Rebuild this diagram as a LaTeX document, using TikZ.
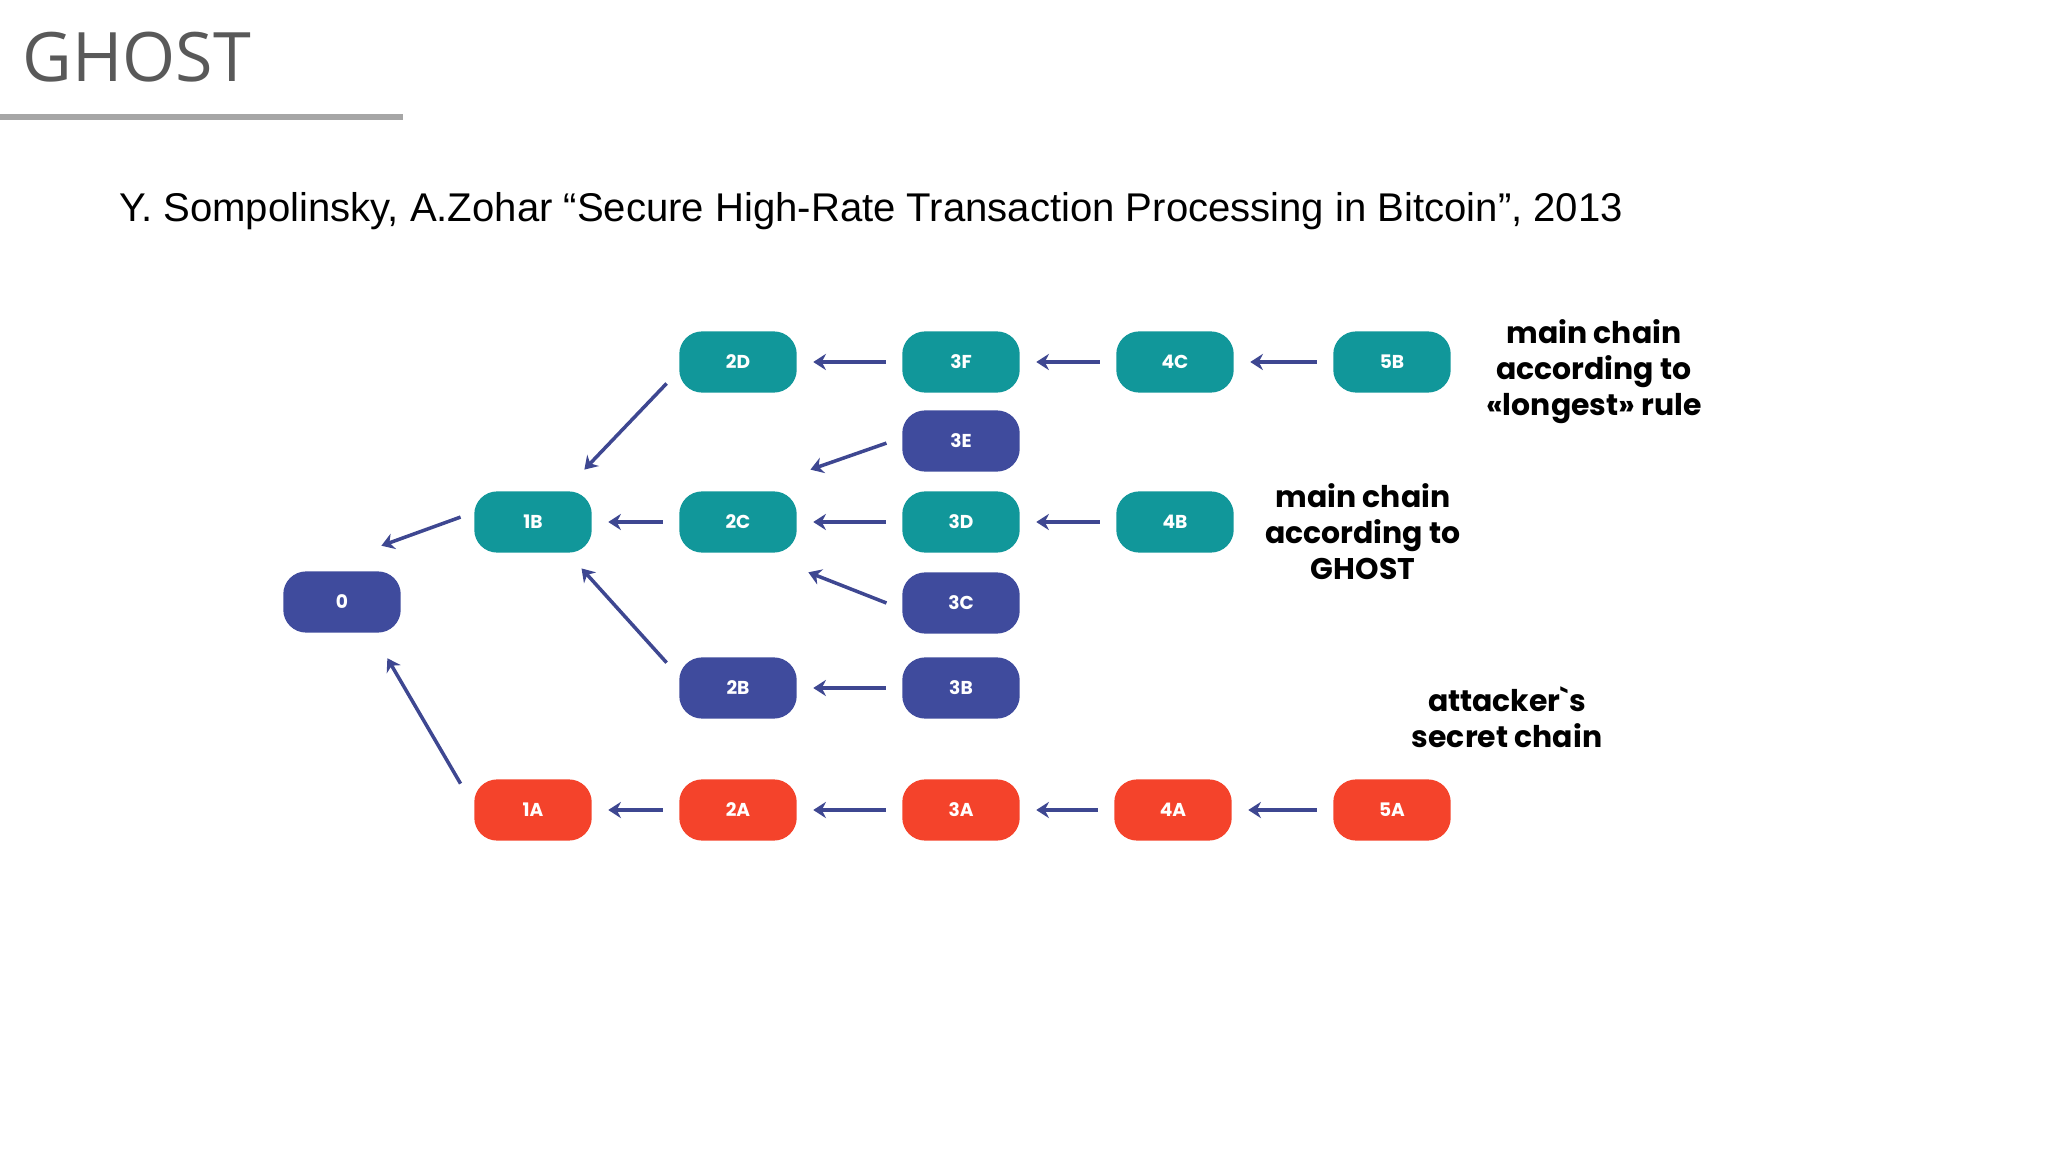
\documentclass[tikz,border=0pt]{standalone}
\usepackage{fontspec}
\setmainfont{Liberation Sans}
\newfontfamily\titlefont{Open Sans}
\newfontfamily\diagfont{Poppins}
\usetikzlibrary{arrows.meta}

\definecolor{chainteal}{HTML}{11979A}
\definecolor{chainblue}{HTML}{3F4B9D}
\definecolor{chainred}{HTML}{F4432B}
\definecolor{linkblue}{HTML}{3E4791}
\definecolor{titlegray}{HTML}{595959}
\definecolor{rulegray}{HTML}{A6A6A6}

\tikzset{
  block/.style={rectangle, rounded corners=6.5pt, minimum width=33.4pt, minimum height=17.4pt,
    inner sep=0pt, text=white, font=\diagfont\bfseries\fontsize{5.3}{6}\selectfont},
  mainblk/.style={block, fill=chainteal},
  sideblk/.style={block, fill=chainblue},
  attackblk/.style={block, fill=chainred},
  link/.style={draw=linkblue, line width=1pt, -{Stealth[length=3.6pt,width=4.6pt]},
    shorten >=4.5pt, shorten <=4.5pt},
  diag/.style={link, shorten >=0pt, shorten <=0pt},
  note/.style={align=center, inner sep=0pt, font=\diagfont\bfseries\fontsize{8.5}{10.2}\selectfont}
}

\begin{document}
\begin{tikzpicture}[x=0.01cm,y=-0.01cm]
    \useasboundingbox (0,0) rectangle (2048,1152);

    % heading
    \node[anchor=base west, inner sep=0pt, text=titlegray, font=\titlefont\fontsize{19.4}{20}\selectfont] (title) at (22,82) {GHOST};
    \draw[rulegray, line width=1.7pt] (0,117) -- (403,117);
    \node[anchor=base west, inner sep=0pt, font=\fontsize{11.4}{13}\selectfont] (cite) at (119,222)
        {Y. Sompolinsky, A.Zohar “Secure High-Rate Transaction Processing in Bitcoin”, 2013};

    % blocks
    \node[sideblk] (b0) at (342,602) {0};
    \node[mainblk] (b1B) at (533,522) {1B};
    \node[mainblk] (b2D) at (738,362) {2D};
    \node[mainblk] (b2C) at (738,522) {2C};
    \node[sideblk] (b2B) at (738,688) {2B};
    \node[mainblk] (b3F) at (961,362) {3F};
    \node[sideblk] (b3E) at (961,441) {3E};
    \node[mainblk] (b3D) at (961,522) {3D};
    \node[sideblk] (b3C) at (961,603) {3C};
    \node[sideblk] (b3B) at (961,688) {3B};
    \node[mainblk] (b4C) at (1175,362) {4C};
    \node[mainblk] (b4B) at (1175,522) {4B};
    \node[mainblk] (b5B) at (1392,362) {5B};

    \node[attackblk] (b1A) at (533,810) {1A};
    \node[attackblk] (b2A) at (738,810) {2A};
    \node[attackblk] (b3A) at (961,810) {3A};
    \node[attackblk] (b4A) at (1173,810) {4A};
    \node[attackblk] (b5A) at (1392,810) {5A};

    % links
    \draw[link] (b3F) -- (b2D);
    \draw[link] (b4C) -- (b3F);
    \draw[link] (b5B) -- (b4C);
    \draw[link] (b2C) -- (b1B);
    \draw[link] (b3D) -- (b2C);
    \draw[link] (b4B) -- (b3D);
    \draw[link] (b3B) -- (b2B);
    \draw[link] (b2A) -- (b1A);
    \draw[link] (b3A) -- (b2A);
    \draw[link] (b4A) -- (b3A);
    \draw[link] (b5A) -- (b4A);

    \draw[diag] ([xshift=-3.4pt,yshift=2.8pt]b2D.south west) -- ([xshift=-2.3pt,yshift=6pt]b1B.north east);
    \draw[diag] ([xshift=-3.7pt,yshift=1.4pt]b1B.west) -- ([xshift=-5.7pt,yshift=7.1pt]b0.north east);
    \draw[diag] ([xshift=-3.4pt,yshift=-1.7pt]b2B.north west) -- ([xshift=-3.1pt,yshift=-4.3pt]b1B.south east);
    \draw[diag] ([xshift=-3.7pt,yshift=-1.4pt]b1A.north west) -- ([xshift=-4pt,yshift=-7.1pt]b0.south east);
    \draw[diag] ([xshift=-4.3pt,yshift=-0.6pt]b3E.west) -- ([xshift=3.7pt,yshift=6pt]b2C.north east);
    \draw[diag] ([xshift=-4.3pt]b3C.west) -- ([xshift=3.1pt,yshift=-5.4pt]b2C.south east);

    % notes
    \node[note] (longest) at (1594,372) {main chain\\according to\\«longest» rule};
    \node[note] (ghost) at (1363,532) {main chain\\according to\\GHOST};
    \node[note] (attack) at (1507,717) {attacker\textasciigrave s\\secret chain};
\end{tikzpicture}
\end{document}
